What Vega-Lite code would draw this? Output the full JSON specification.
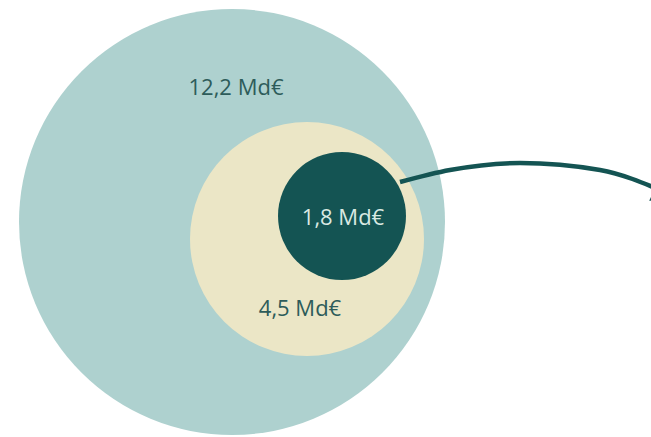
{
  "$schema": "https://vega.github.io/schema/vega-lite/v6.json",
  "width": 651,
  "height": 437,
  "autosize": {"type": "fit", "contains": "padding"},
  "padding": 0,
  "background": "#ffffff",
  "config": {"view": {"stroke": null}, "font": "Open Sans"},
  "datasets": {
    "montants": [
      {"niveau": "ensemble", "montant": 12.2},
      {"niveau": "partie", "montant": 4.5},
      {"niveau": "noyau", "montant": 1.8}
    ],
    "fleche": [
      {"etape": 0},
      {"etape": 1},
      {"etape": 2},
      {"etape": 3},
      {"etape": 4}
    ]
  },
  "layer": [
    {
      "data": {"name": "montants"},
      "mark": {"type": "point", "shape": "circle", "filled": true, "opacity": 1},
      "encoding": {
        "x": {"field": "montant", "type": "quantitative", "axis": null,
              "scale": {"domain": [1.8, 4.5, 12.2], "range": [342, 307, 232], "nice": false, "zero": false}},
        "y": {"field": "montant", "type": "quantitative", "axis": null,
              "scale": {"domain": [1.8, 4.5, 12.2], "range": [216, 239, 222], "nice": false, "zero": false}},
        "size": {"field": "montant", "type": "quantitative", "legend": null,
                 "scale": {"domain": [1.8, 4.5, 12.2], "range": [16384, 54756, 181476], "nice": false, "zero": false}},
        "color": {"field": "niveau", "type": "nominal", "legend": null,
                  "scale": {"domain": ["ensemble", "partie", "noyau"], "range": ["#aed1cf", "#ebe6c6", "#145453"]}},
        "order": {"field": "montant", "type": "quantitative", "sort": "descending"}
      }
    },
    {
      "data": {"name": "fleche"},
      "mark": {"type": "line", "interpolate": "monotone", "color": "#145453", "strokeWidth": 4.5, "strokeCap": "butt"},
      "encoding": {
        "x": {"field": "etape", "type": "quantitative", "axis": null,
              "scale": {"domain": [0, 1, 2, 3, 4], "range": [400, 450, 520, 600, 665], "nice": false, "zero": false}},
        "y": {"field": "etape", "type": "quantitative", "axis": null,
              "scale": {"domain": [0, 1, 2, 3, 4], "range": [182, 170, 163, 170, 192], "nice": false, "zero": false}}
      }
    },
    {
      "data": {"name": "fleche"},
      "transform": [{"filter": "datum.etape == 4"}],
      "mark": {"type": "point", "shape": "triangle-right", "filled": true, "opacity": 1, "size": 320, "angle": 25, "color": "#145453"},
      "encoding": {
        "x": {"field": "etape", "type": "quantitative", "axis": null,
              "scale": {"domain": [0, 4], "range": [400, 660], "nice": false, "zero": false}},
        "y": {"field": "etape", "type": "quantitative", "axis": null,
              "scale": {"domain": [0, 4], "range": [182, 196], "nice": false, "zero": false}}
      }
    },
    {
      "data": {"name": "montants"},
      "transform": [
        {"calculate": "replace(format(datum.montant, '.1f'), '.', ',') + ' Md€'", "as": "etiquette"}
      ],
      "mark": {"type": "text", "fontSize": 22, "fontWeight": 500, "align": "center", "baseline": "middle"},
      "encoding": {
        "x": {"field": "montant", "type": "quantitative", "axis": null,
              "scale": {"domain": [1.8, 4.5, 12.2], "range": [343, 300, 236], "nice": false, "zero": false}},
        "y": {"field": "montant", "type": "quantitative", "axis": null,
              "scale": {"domain": [1.8, 4.5, 12.2], "range": [218, 309, 88], "nice": false, "zero": false}},
        "text": {"field": "etiquette", "type": "nominal"},
        "color": {"field": "niveau", "type": "nominal", "legend": null,
                  "scale": {"domain": ["ensemble", "partie", "noyau"], "range": ["#2d5c5a", "#2d5c5a", "#d9e9e2"]}}
      }
    }
  ],
  "resolve": {"scale": {"x": "independent", "y": "independent", "color": "independent", "size": "independent"}}
}
